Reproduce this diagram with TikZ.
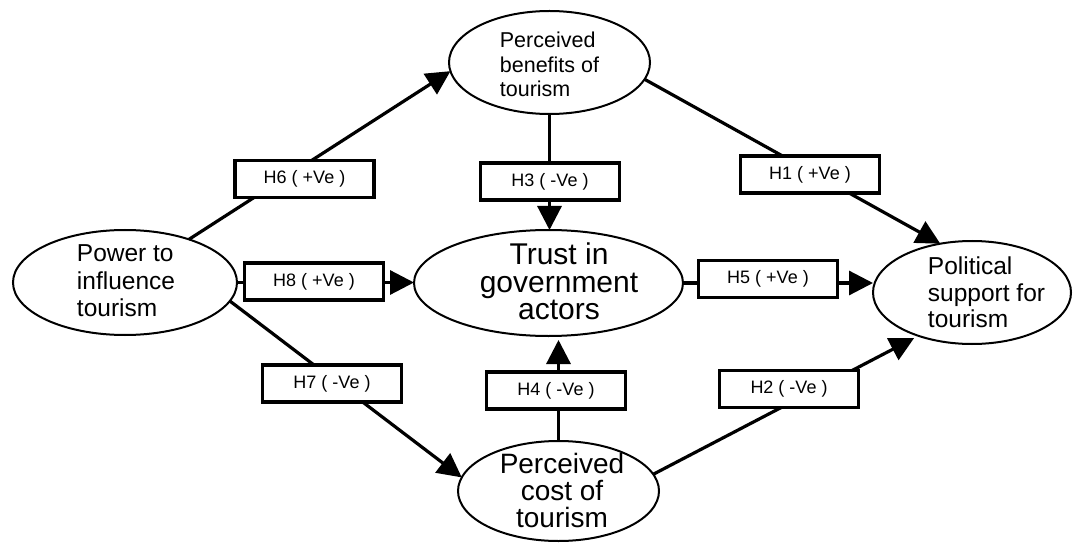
\documentclass[tikz,border=0pt]{standalone}
\usepackage{fontspec}
\setmainfont{Liberation Sans}
\usetikzlibrary{arrows.meta,shapes.geometric}
\begin{document}
\begin{tikzpicture}[x=1pt,y=-1pt,
  oval/.style={draw, ellipse, line width=2pt, inner sep=0pt, outer sep=0pt},
  ovaltext/.style={inner sep=0pt},
  hyp/.style={draw, fill=white, line width=3.5pt, minimum width=139pt, minimum height=37pt, inner sep=0pt, font=\fontsize{18}{20}\selectfont},
  link/.style={line width=3.2pt},
  arr/.style={link, -{Triangle[length=24pt,width=24pt]}},
]
\useasboundingbox (0,0) rectangle (1075,545);

% construct ellipses
\node[oval, minimum width=201pt, minimum height=103pt] (benefits) at (549.5,62.5) {};
\node[oval, minimum width=224pt, minimum height=105pt] (power) at (125,282.5) {};
\node[oval, minimum width=269pt, minimum height=106pt] (trust) at (548.5,283) {};
\node[oval, minimum width=198pt, minimum height=103pt] (political) at (972,292.5) {};
\node[oval, minimum width=201pt, minimum height=100pt] (cost) at (558.5,491) {};

% texts
\node[ovaltext, align=left, font=\fontsize{21.5}{24.5}\selectfont] (benefitsT) at (549.5,64.7) {Perceived\\benefits of\\tourism};
\node[ovaltext, align=left, font=\fontsize{24.5}{27.5}\selectfont] (powerT) at (126,280.8) {Power to\\influence\\tourism};
\node[ovaltext, align=center, font=\fontsize{30}{27.5}\selectfont] (trustT) at (559,281.7) {Trust in\\government\\actors};
\node[ovaltext, align=left, font=\fontsize{24.5}{26.5}\selectfont] (politicalT) at (986.5,292.7) {Political\\support for\\tourism};
\node[ovaltext, align=center, font=\fontsize{28}{27}\selectfont] (costT) at (562,490) {Perceived\\cost of\\tourism};

% connectors
\draw[arr] (power.34) -- (benefits.185);
\draw[arr] (benefits.-10) -- (political.123);
\draw[arr] (benefits.south) -- (benefits.south |- trust.north);
\draw[arr] (power.east) -- (power.east -| trust.west);
\draw[arr] (trust.east) -- (trust.east -| political.west);
\draw[arr] (power.-10) -- (cost.172);
\draw[arr, shorten >=4pt] (cost.north) -- (cost.north |- trust.south);
\draw[arr, shorten >=5pt] (cost.10) -- (political.219);

% hypothesis labels
\node[hyp] (h6) at (304.5,179) {H6 ( +Ve )};
\node[hyp] (h3) at (550,181.5) {H3 ( -Ve )};
\node[hyp] (h1) at (810,174.5) {H1 ( +Ve )};
\node[hyp] (h8) at (314,281.5) {H8 ( +Ve )};
\node[hyp] (h5) at (768,279) {H5 ( +Ve )};
\node[hyp] (h7) at (332,383.5) {H7 ( -Ve )};
\node[hyp] (h4) at (556,390.5) {H4 ( -Ve )};
\node[hyp] (h2) at (789,389) {H2 ( -Ve )};
\end{tikzpicture}
\end{document}
